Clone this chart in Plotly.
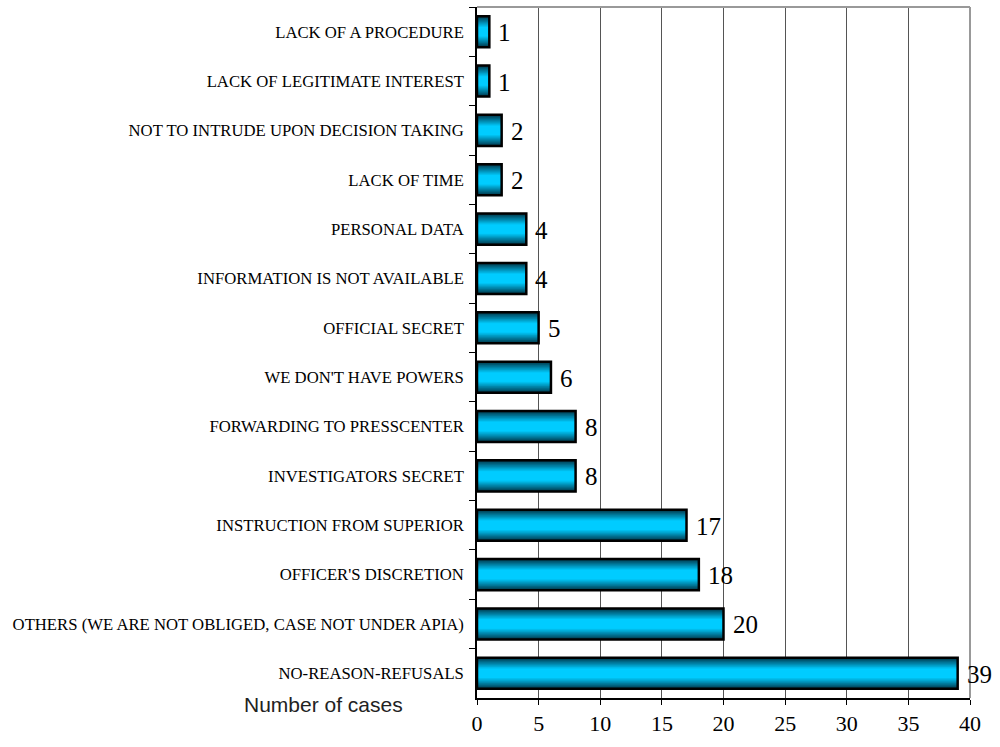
import plotly.graph_objects as go

categories = [
    "LACK OF A PROCEDURE",
    "LACK OF LEGITIMATE INTEREST",
    "NOT TO INTRUDE UPON DECISION TAKING",
    "LACK OF TIME",
    "PERSONAL DATA",
    "INFORMATION IS NOT AVAILABLE",
    "OFFICIAL SECRET",
    "WE DON'T HAVE POWERS",
    "FORWARDING TO PRESSCENTER",
    "INVESTIGATORS SECRET",
    "INSTRUCTION FROM SUPERIOR",
    "OFFICER'S DISCRETION",
    "OTHERS (WE ARE NOT OBLIGED, CASE NOT UNDER APIA)",
    "NO-REASON-REFUSALS",
]
values = [1, 1, 2, 2, 4, 4, 5, 6, 8, 8, 17, 18, 20, 39]
x_ticks = [0, 5, 10, 15, 20, 25, 30, 35, 40]

SERIF = "Times New Roman"

fig = go.Figure()

# gradient layers (dark edges -> bright centre)
bar_w = 0.63
n_layers = 14
dark = (0, 55, 75)
light = (0, 204, 255)
for i in range(n_layers):
    t = i / (n_layers - 1)
    w = bar_w * (1 - 0.7 * t)
    k = t ** 0.95
    c = tuple(int(dark[j] + (light[j] - dark[j]) * k) for j in range(3))
    fig.add_trace(go.Bar(
        y=categories, x=values, orientation="h", width=w,
        marker=dict(color="rgb(%d,%d,%d)" % c, line=dict(width=0)),
        hoverinfo="skip", showlegend=False,
    ))

# outline
fig.add_trace(go.Bar(
    y=categories, x=values, orientation="h", width=bar_w,
    marker=dict(color="rgba(0,0,0,0)", line=dict(color="black", width=2.5)),
    showlegend=False,
))

annotations = [
    dict(x=v, y=c, xref="x", yref="y", text=str(v), showarrow=False,
         xanchor="left", yanchor="middle", xshift=7, yshift=-1,
         font=dict(family=SERIF, size=25, color="black"))
    for c, v in zip(categories, values)
]
annotations.append(dict(
    text="Number of cases", xref="paper", yref="paper",
    x=-0.312, y=-0.009, xanchor="center", yanchor="middle",
    showarrow=False, font=dict(family="Liberation Sans", size=21, color="#222222"),
))

fig.update_layout(
    width=1000, height=747,
    margin=dict(l=477, r=30, t=7, b=49),
    barmode="overlay",
    plot_bgcolor="white", paper_bgcolor="white",
    xaxis=dict(
        range=[0, 40], tickvals=x_ticks, ticktext=[str(v) for v in x_ticks],
        showgrid=True, gridcolor="#555555", gridwidth=1,
        showline=True, linecolor="black", linewidth=1.5,
        ticks="outside", ticklen=5, tickcolor="black",
        tickfont=dict(family=SERIF, size=22, color="black"),
        zeroline=False, automargin=False,
    ),
    yaxis=dict(
        autorange="reversed", type="category",
        showline=True, linecolor="black", linewidth=1.5,
        ticks="outside", ticklen=6, tickcolor="black", tickson="boundaries",
        tickfont=dict(family=SERIF, size=16.7, color="black"),
        ticklabelstandoff=8, automargin=False,
        showgrid=False,
    ),
    annotations=annotations,
    shapes=[
        dict(type="line", xref="paper", yref="paper", x0=0, x1=1, y0=1, y1=1,
             line=dict(color="#999999", width=2), layer="above"),
        dict(type="line", xref="paper", yref="paper", x0=1, x1=1, y0=0, y1=1,
             line=dict(color="#999999", width=2), layer="above"),
    ],
)

fig.write_html("out.html")
